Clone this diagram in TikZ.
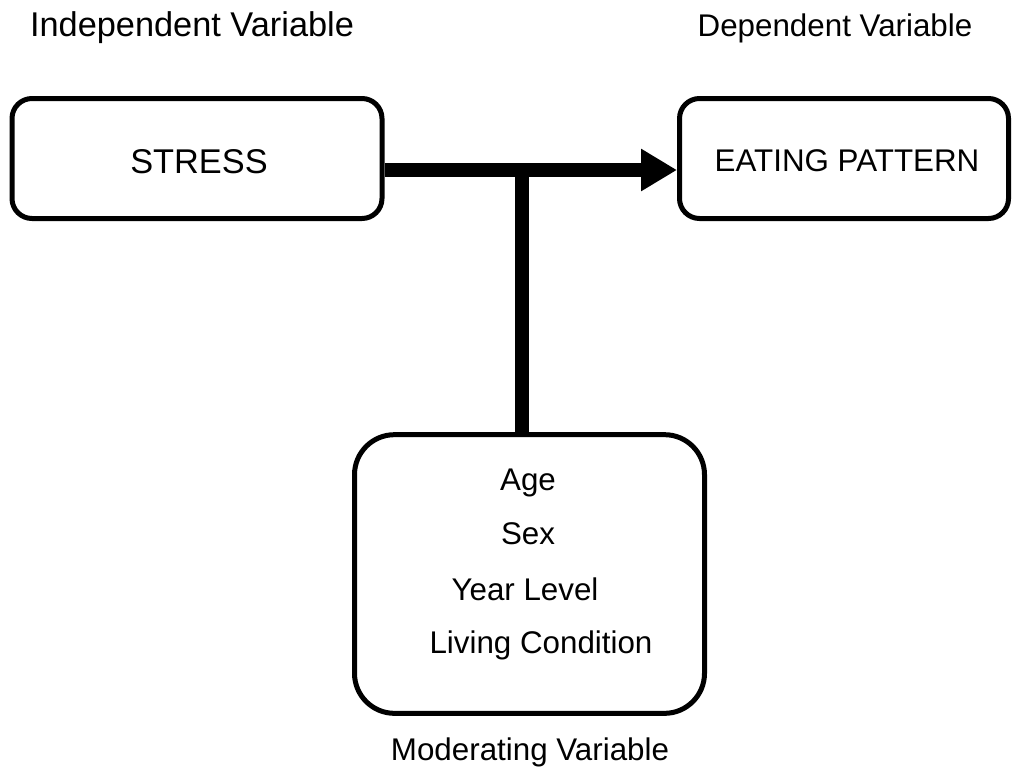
\documentclass[tikz,border=0pt]{standalone}
\usepackage{fontspec}
\setmainfont{Liberation Sans}
\usetikzlibrary{arrows.meta}
\begin{document}
\begin{tikzpicture}[x=0.75pt,y=-0.75pt,
    font=\fontsize{23.5}{28}\selectfont,
    varbox/.style={draw,line width=3.75pt,rounded corners=15pt,inner sep=0pt},
    label/.style={anchor=base},
    biglabel/.style={anchor=base,font=\fontsize{25.75}{30}\selectfont},
    link/.style={line width=10.5pt}]
  \useasboundingbox (0,0) rectangle (1013,776);

  \node[biglabel] (indep) at (192,36) {Independent Variable};
  \node[label] (dep) at (835,36) {Dependent Variable};

  \node[varbox,minimum width=277.5pt,minimum height=90pt] (stress) at (197,158.5) {};
  \node[biglabel] (stresstxt) at (199,173) {STRESS};
  \node[varbox,minimum width=246.75pt,minimum height=90pt] (eating) at (844,158.5) {};
  \node[label] (eatingtxt) at (847,171) {EATING PATTERN};

  \node[varbox,rounded corners=30pt,minimum width=262.5pt,minimum height=209pt] (moder) at (529.5,574) {};
  \node[label] (age) at (528,490) {Age};
  \node[label] (sex) at (528,544) {Sex};
  \node[label] (year) at (525,600) {Year Level};
  \node[label] (living) at (541,653) {Living Condition};
  \node[label] (modtxt) at (530,760) {Moderating Variable};

  \coordinate (tee) at (522,170);
  \draw[link,-{Triangle[length=27pt,width=30pt]}] (stress.east |- tee) -- (eating.west |- tee);
  \draw[link] (tee) -- (tee |- moder.north);
\end{tikzpicture}
\end{document}
